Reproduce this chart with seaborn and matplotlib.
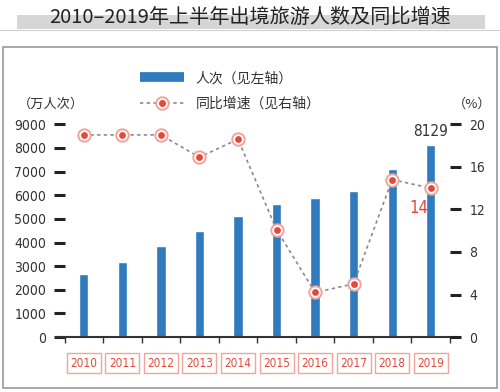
import numpy as np
import pandas as pd
import matplotlib
matplotlib.use('Agg')
import matplotlib.pyplot as plt
import seaborn as sns
from matplotlib.lines import Line2D
from matplotlib.patches import Rectangle

years = ['2010', '2011', '2012', '2013', '2014', '2015', '2016', '2017', '2018', '2019']
visitors = [2660, 3170, 3840, 4480, 5110, 5620, 5870, 6170, 7100, 8129]
growth = [19.0, 19.0, 19.0, 16.9, 18.6, 10.1, 4.2, 5.0, 14.8, 14.0]
left_ticks = [0, 1000, 2000, 3000, 4000, 5000, 6000, 7000, 8000, 9000]
right_ticks = [0, 4, 8, 12, 16, 20]

BLUE = '#2f7bbd'
RED = '#e5483a'
PINK = '#f0a59c'
NUM = dict(family='DejaVu Sans', stretch='condensed')

sns.set_theme(style='white')
plt.rcParams['font.family'] = ['Noto Sans CJK SC', 'DejaVu Sans']

df = pd.DataFrame({'year': years, 'visitors': visitors, 'growth': growth})

fig = plt.figure(figsize=(5, 3.92), dpi=100)

# outer frame and title band
fig.patches.append(Rectangle((0.006, 0.01), 0.988, 0.87, transform=fig.transFigure,
                             fill=False, edgecolor='#9a9a9a', linewidth=1.2))
fig.patches.append(Rectangle((0.034, 0.925), 0.936, 0.038, transform=fig.transFigure,
                             facecolor='#d6d6d6', edgecolor='none'))
fig.add_artist(Line2D([0.0, 1.0], [0.923, 0.923], transform=fig.transFigure,
                      color='#cfcfcf', linewidth=0.8))
fig.text(0.5, 0.955, '2010–2019年上半年出境旅游人数及同比增速', ha='center', va='center',
         fontsize=14.5, color='#222222')

ax = fig.add_axes([0.129, 0.14, 0.771, 0.543])
sns.barplot(data=df, x='year', y='visitors', color=BLUE, width=0.24, saturation=1, ax=ax)
ax.set_xlim(-0.5, 9.5)
ax.set_ylim(0, 9000)
ax.set_xlabel('')
ax.set_ylabel('')
ax.set_yticks(left_ticks)
ax.set_yticklabels([str(v) for v in left_ticks], fontsize=10, color='#333333', **NUM)
ax.tick_params(axis='y', left=True, length=8, width=2.2, color='#222222', pad=5)

for s in ['top', 'right', 'left']:
    ax.spines[s].set_visible(False)
ax.spines['bottom'].set_color('#333333')
ax.spines['bottom'].set_linewidth(1.5)
ax.spines['bottom'].set_bounds(-0.72, 9.62)

ax.set_xticks(np.arange(-0.5, 10, 1), minor=True)
ax.tick_params(axis='x', which='minor', bottom=True, length=4, width=1, color='#333333', direction='out')
ax.tick_params(axis='x', which='major', bottom=False, pad=8)
for lbl in ax.get_xticklabels():
    lbl.set_family('DejaVu Sans')
    lbl.set_stretch('condensed')
    lbl.set_fontsize(8.5)
    lbl.set_color(RED)
    lbl.set_bbox(dict(boxstyle='square,pad=0.3', facecolor='white', edgecolor=PINK, linewidth=1))

ax2 = ax.twinx()
xs = np.arange(len(years))
sns.lineplot(x=xs, y=growth, ax=ax2, color='#8a8a8a', linestyle=(0, (2, 2)), linewidth=1.2)
ax2.scatter(xs, growth, s=80, facecolor='white', edgecolor=PINK, linewidth=1.4, zorder=5, clip_on=False)
ax2.scatter(xs, growth, s=15, color=RED, zorder=6, clip_on=False)
ax2.set_ylim(0, 20)
ax2.set_xlim(-0.5, 9.5)
ax2.set_yticks(right_ticks)
ax2.set_yticklabels([str(v) for v in right_ticks], fontsize=10, color='#333333', **NUM)
ax2.tick_params(axis='y', right=True, length=8, width=2.2, color='#222222', pad=6)
for s in ax2.spines.values():
    s.set_visible(False)

# value labels
ax.text(9, visitors[-1] + 250, '8129', ha='center', va='bottom', fontsize=11,
        color='#333333', **NUM)
ax2.text(8.68, growth[-1] - 1.9, '14', ha='center', va='center', fontsize=12,
         color=RED, **NUM)

# units
fig.text(0.035, 0.733, '（万人次）', fontsize=9.5, color='#333333', va='center')
fig.text(0.905, 0.735, '（%）', fontsize=9.5, color='#333333', va='center')

# legend
bar_handle = Line2D([0], [0], color=BLUE, linewidth=7, solid_capstyle='butt')
line_handle = (Line2D([0], [0], color='#8a8a8a', linestyle=(0, (2, 2)), linewidth=1.2),
               Line2D([0], [0], marker='o', markersize=9, markerfacecolor='white',
                      markeredgecolor=PINK, markeredgewidth=1.4, linestyle='none'),
               Line2D([0], [0], marker='o', markersize=4, color=RED, linestyle='none'))
fig.legend([bar_handle, line_handle], ['人次（见左轴）', '同比增速（见右轴）'],
           loc='upper left', bbox_to_anchor=(0.255, 0.85), frameon=False, fontsize=10,
           handlelength=3.2, handletextpad=0.8, labelspacing=0.85, labelcolor='#333333')

fig.savefig('out.png', dpi=100)
